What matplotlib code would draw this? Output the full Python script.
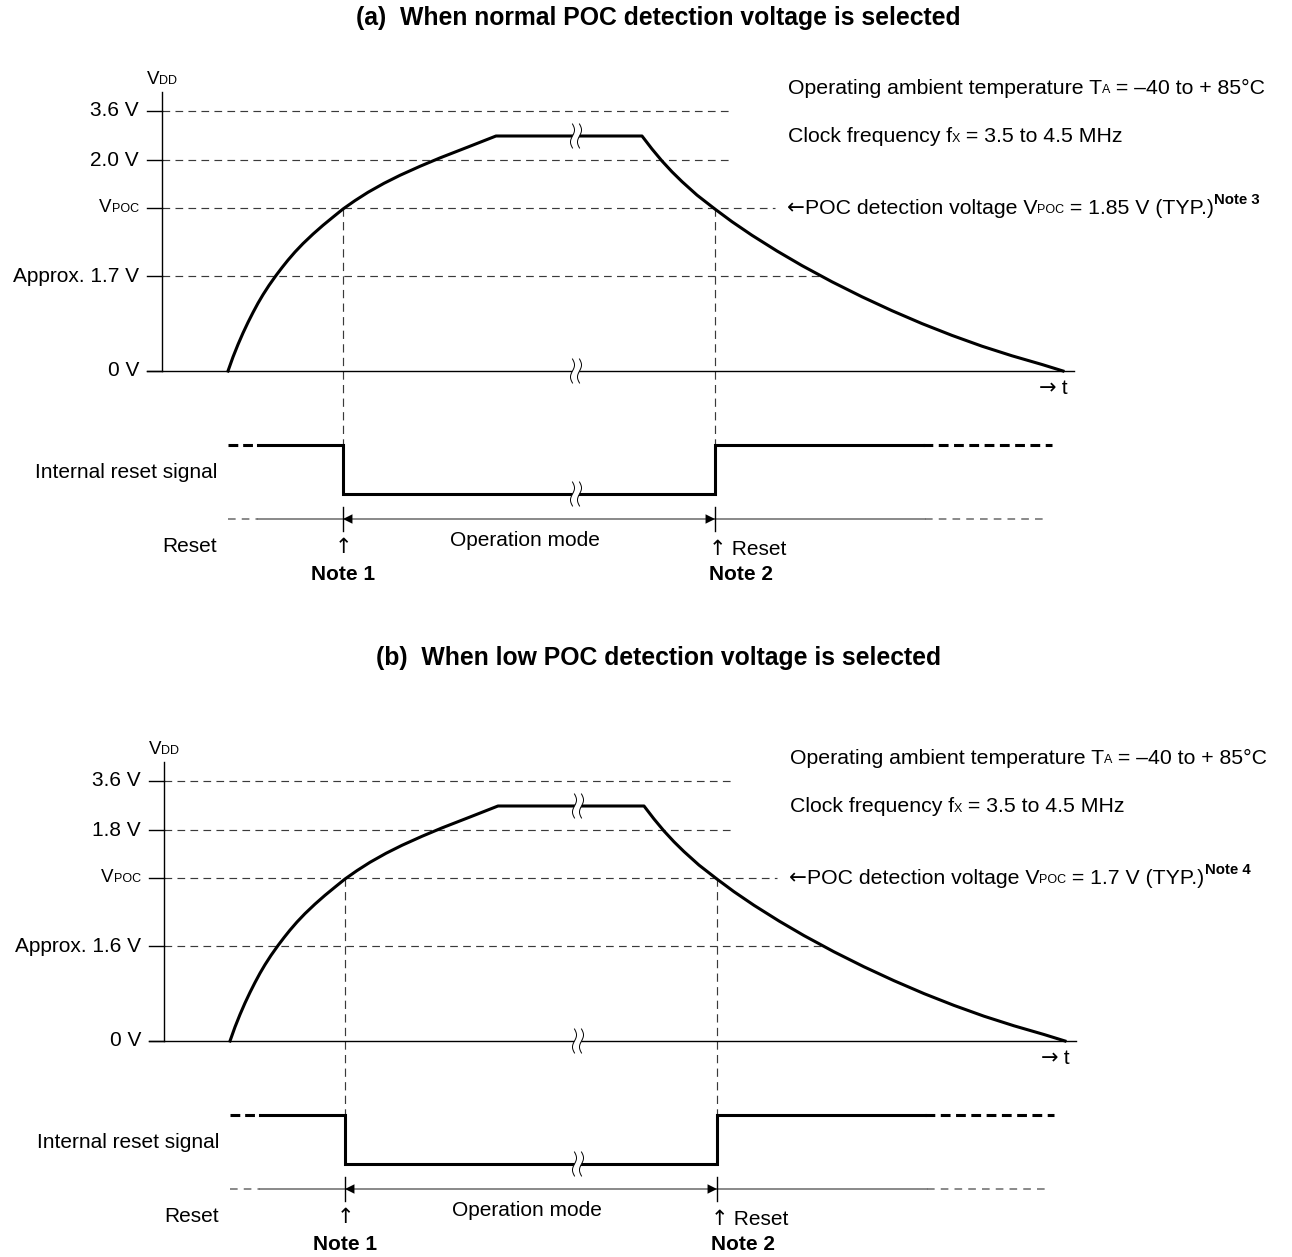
import numpy as np
import matplotlib
matplotlib.use("Agg")
import matplotlib.pyplot as plt
from matplotlib.patches import Polygon

plt.rcParams['font.family'] = ['Liberation Sans', 'DejaVu Sans']

# ---------------- data (schematic units) ----------------
title_a = "(a)  When normal POC detection voltage is selected"
title_b = "(b)  When low POC detection voltage is selected"
level_labels_a = ["3.6 V", "2.0 V", "VPOC", "Approx. 1.7 V", "0 V"]
level_labels_b = ["3.6 V", "1.8 V", "VPOC", "Approx. 1.6 V", "0 V"]
level_heights = [260, 211, 163, 95, 0]
vpoc_text_a = " = 1.85 V (TYP.)"
vpoc_text_b = " = 1.7 V (TYP.)"
note_a = "Note 3"
note_b = "Note 4"

# V_DD curve
t_rise = [66, 71, 76, 81, 86, 91, 96, 101, 107, 114, 120, 126, 133, 141, 151, 161,
          171, 181, 193, 206, 222, 238, 258, 278, 306, 334]
vdd_rise = [0, 14, 26.5, 38, 48.6, 58.5, 67.8, 76.3, 85.6, 95.5, 103.4, 110.9, 119,
            127.4, 136.9, 145.7, 153.9, 162, 170.4, 178.7, 187.7, 195.7, 204.7, 213.1,
            224, 235]
t_hold = [334, 480]
vdd_hold = [235, 235]
t_fall = [480, 490, 500, 510, 520, 535, 553, 570, 590, 615, 640, 670, 700, 730, 760,
          790, 820, 850, 880, 901]
vdd_fall = [235, 222, 210, 199.2, 189.4, 175.9, 161.9, 149.3, 135.7, 120, 105.4, 89.2,
            74.2, 60.3, 47.4, 35.6, 24.8, 15.2, 6.5, 0]
t_break = 414

# internal reset signal
t_release = 181
t_assert = 553
reset_t = [96, 181, 181, 553, 553, 761]
reset_lvl = [-74, -74, -123, -123, -74, -74]

# ---------------- styling ----------------
W, H = 1292, 1257
BIG = 15
RT = 15.3
MID = 13.5
SMALL = 9
NOTE = 10.8
DASH_CLR = '#3a3a3a'
ROW_CLR = '#6a6a6a'
ARROW_FAM = ['DejaVu Sans']
DSC = 0.212  # descent ratio used to keep small runs on the same baseline

fig = plt.figure(figsize=(W / 100, H / 100), dpi=100)
pending = []


def rich(ax, x, y, parts, ha='left', va='center', color='k'):
    """parts: list of (text, size, weight, dy_points[, family])"""
    def kw(p):
        d = dict(fontsize=p[1], fontweight=p[2], color=color)
        if len(p) > 4:
            d['family'] = p[4]
        return d
    p0 = parts[0]
    first = ax.text(x, y, p0[0], ha='left', va=va, **kw(p0))
    prev = first
    prev_size = p0[1]
    base_size = p0[1]
    for p in parts[1:]:
        # shift so that baselines coincide (bbox bottoms include font descent)
        corr = DSC * (base_size - p[1]) - DSC * (base_size - prev_size)
        prev = ax.annotate(p[0], xy=(1, 0), xycoords=prev, xytext=(0, p[3] + corr),
                           textcoords='offset points', ha='left', va='bottom', **kw(p))
        if p[3] != 0:
            corr_back = p[3]
        prev_size = p[1] if p[3] == 0 else prev_size
    pending.append((ax, first, prev, x, y, ha))


def draw_break(ax, x, y, half=12, gap=7):
    s = np.linspace(-1, 1, 40)
    wob = 2.0 * np.sin(np.pi * s)
    yy = y + half * s
    xl = x - gap / 2 + wob
    xr = x + gap / 2 + wob
    poly = np.column_stack([np.r_[xl, xr[::-1]], np.r_[yy, yy[::-1]]])
    ax.add_patch(Polygon(poly, closed=True, fc='white', ec='none', zorder=5))
    ax.plot(xl, yy, color='k', lw=0.7, zorder=6)
    ax.plot(xr, yy, color='k', lw=0.7, zorder=6)


def label_parts(lbl):
    if lbl == "VPOC":
        return [("V", MID, 'normal', 0), ("POC", SMALL, 'normal', 0)]
    return [(lbl, BIG, 'normal', 0)]


def panel(ax, labels, vpoc_text, note):
    ax.set_axis_off()
    # level ticks and dashed guides
    x_cross_low = np.interp(level_heights[3], vdd_fall[::-1], t_fall[::-1])
    ends = [568, 568, 613, x_cross_low]
    for lbl, h in zip(labels, level_heights):
        ax.plot([-15, 0], [h, h], color='k', lw=1.0)
        rich(ax, -23, h, label_parts(lbl), ha='right')
    for h, e in zip(level_heights[:4], ends):
        ax.plot([0, e], [h, h], color=DASH_CLR, lw=0.85, ls=(0, (6.5, 4.5)), zorder=1)
    # axes
    ax.plot([0, 0], [0, 279], color='k', lw=1.0)
    ax.plot([-15, 912], [0, 0], color='k', lw=1.0, zorder=2)
    rich(ax, 0, 291, [("V", MID, 'normal', 0), ("DD", SMALL, 'normal', 0)], ha='center')
    rich(ax, 891, -17, [("\u2192", BIG, 'normal', 0, ARROW_FAM), (" t", BIG, 'normal', 0)],
         ha='center')

    # VDD curve
    tt = list(t_rise) + list(t_hold[1:]) + list(t_fall[1:])
    vv = list(vdd_rise) + list(vdd_hold[1:]) + list(vdd_fall[1:])
    ax.plot(tt, vv, color='k', lw=2.2, solid_joinstyle='round', zorder=3)

    # vertical dashed guides at V_POC crossings
    for t in (t_release, t_assert):
        ax.plot([t, t], [level_heights[2], reset_lvl[0]], color=DASH_CLR, lw=0.85,
                ls=(0, (7, 4.5)), zorder=1)

    # internal reset signal
    ax.plot([66, 96], [reset_lvl[0]] * 2, color='k', lw=2.2, ls=(0, (3.2, 1.6)))
    ax.plot(reset_t, reset_lvl, color='k', lw=2.2, solid_joinstyle='miter', zorder=3)
    ax.plot([761, 890], [reset_lvl[-1]] * 2, color='k', lw=2.2, ls=(0, (3.2, 1.8)))

    # reset / operation row
    row = -148
    ax.plot([66, 96], [row, row], color=ROW_CLR, lw=1.1, ls=(0, (5, 4)))
    ax.plot([96, 763], [row, row], color=ROW_CLR, lw=1.1)
    ax.plot([763, 886], [row, row], color=ROW_CLR, lw=1.1, ls=(0, (5, 4)))
    for t in (t_release, t_assert):
        ax.plot([t, t], [row + 12, row - 12], color='k', lw=1.0)
    ax.annotate('', xy=(t_release, row), xytext=(t_assert, row),
                arrowprops=dict(arrowstyle='<|-|>', mutation_scale=17, color='k',
                                lw=0.0, shrinkA=0, shrinkB=0))

    # breaks
    for y in (vdd_hold[0], 0, reset_lvl[2]):
        draw_break(ax, t_break, y)

    # left texts
    rich(ax, 55, -102, [("Internal reset signal", BIG, 'normal', 0)], ha='right')
    rich(ax, 55, -176, [("Reset", BIG, 'normal', 0)], ha='right')
    rich(ax, 363, -170, [("Operation mode", BIG, 'normal', 0)], ha='center')
    rich(ax, t_release, -176, [("\u2191", BIG, 'normal', 0, ARROW_FAM)], ha='center')
    rich(ax, t_release, -204, [("Note 1", BIG, 'bold', 0)], ha='center')
    rich(ax, t_assert - 6, -178, [("\u2191", BIG, 'normal', 0, ARROW_FAM),
                                  (" Reset", BIG, 'normal', 0)], ha='left')
    rich(ax, t_assert - 6, -204, [("Note 2", BIG, 'bold', 0)], ha='left')

    # right texts
    rich(ax, 626, 283, [("Operating ambient temperature T", RT, 'normal', 0),
                        ("A", SMALL, 'normal', 0),
                        (" = \u201340 to + 85\u00b0C", RT, 'normal', 0)])
    rich(ax, 626, 234, [("Clock frequency f", RT, 'normal', 0),
                        ("X", SMALL, 'normal', 0),
                        (" = 3.5 to 4.5 MHz", RT, 'normal', 0)])
    rich(ax, 625, 163, [("\u2190", RT, 'normal', 0, ARROW_FAM),
                        ("POC detection voltage V", RT, 'normal', 0),
                        ("POC", SMALL, 'normal', 0),
                        (vpoc_text, RT, 'normal', 0),
                        (note, NOTE, 'bold', 7.0)])


def make_axes(px_left_axis, py_zero, py_top, py_bot):
    ax = fig.add_axes([0, (H - py_bot) / H, 1, (py_bot - py_top) / H])
    ax.set_xlim(-px_left_axis, W - px_left_axis)
    ax.set_ylim(py_zero - py_bot, py_zero - py_top)
    return ax


ax_a = make_axes(162, 371, 30, 620)
panel(ax_a, level_labels_a, vpoc_text_a, note_a)
ax_b = make_axes(164, 1041, 700, 1257)
panel(ax_b, level_labels_b, vpoc_text_b, note_b)

fig.text(658 / W, 1 - 18 / H, title_a, ha='center', va='center', fontsize=17.8, fontweight='bold')
fig.text(658 / W, 1 - 658 / H, title_b, ha='center', va='center', fontsize=17.8, fontweight='bold')

# alignment pass for multi-run texts
fig.canvas.draw()
for ax, first, last, x, y, ha in pending:
    if ha == 'left':
        continue
    x0 = first.get_window_extent().x0
    x1 = last.get_window_extent().x1
    w = x1 - x0
    shift = w if ha == 'right' else w / 2
    dx, dy = ax.transData.transform((x, y))
    nx, _ = ax.transData.inverted().transform((dx - shift, dy))
    first.set_x(nx)

fig.savefig("out.png", dpi=100)
